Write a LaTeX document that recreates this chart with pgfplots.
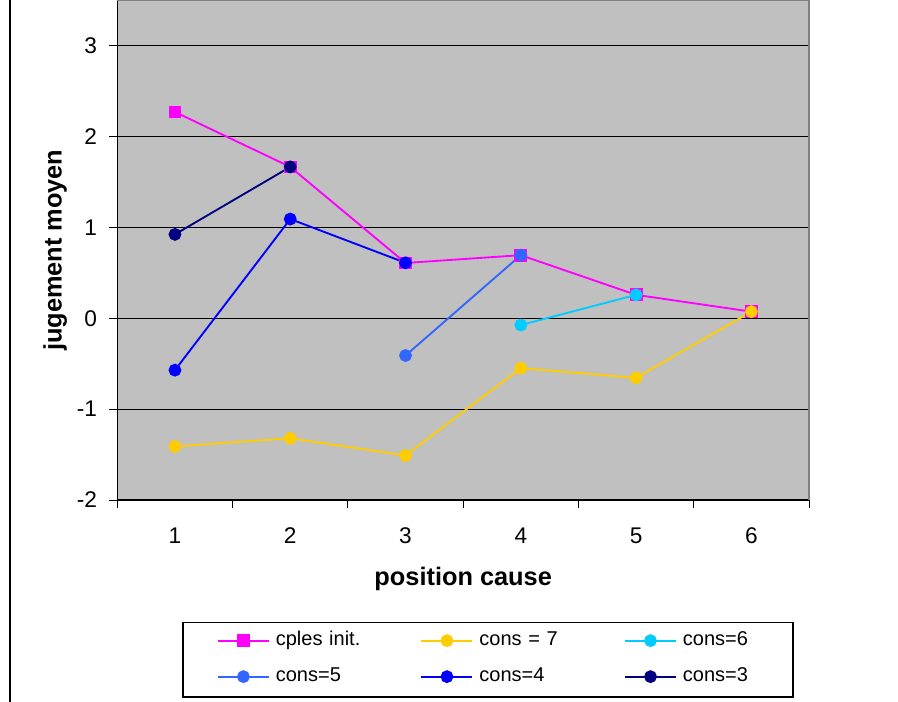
\documentclass[border=0pt]{standalone}
\usepackage{pgfplots}
\pgfplotsset{compat=1.18}
\usepackage{fontspec}
\setmainfont{Liberation Sans}
\definecolor{cmag}{HTML}{FF00FF}
\definecolor{cgold}{HTML}{FFCC00}
\definecolor{ccyan}{HTML}{00CCFF}
\definecolor{ccorn}{HTML}{3366FF}
\definecolor{cblue}{HTML}{0000FF}
\definecolor{cnavy}{HTML}{000080}
\definecolor{plotbg}{HTML}{C0C0C0}
\definecolor{framegray}{HTML}{808080}
\begin{document}
\begin{tikzpicture}
\useasboundingbox (0,0) rectangle (673.5pt,-526.5pt);
\draw[line width=1pt] (7.5pt,0pt) -- (7.5pt,-526.5pt);
\begin{axis}[
  at={(87.98pt,-375pt)}, anchor=south west,
  width=518.8pt, height=374.6pt, scale only axis,
  xmin=0.5, xmax=6.5, ymin=-2, ymax=3.5,
  axis background/.style={fill=plotbg},
  axis x line*=bottom, axis y line*=left,
  axis line style={black, line width=0.9pt},
  xtick={1,...,6}, minor xtick={0.5,1.5,...,6.5},
  ytick={-2,...,3},
  tick align=outside, major tick length=6pt, minor tick length=6pt,
  tick style={black, line width=0.75pt},
  every major x tick/.append style={draw=none},
  ymajorgrids, major grid style={black, line width=0.75pt},
  /pgf/number format/assume math mode=true,
  tick label style={font=\fontsize{17}{20}\selectfont},
  xticklabel style={anchor=base, yshift=-26.5pt},
  yticklabel style={anchor=east, inner sep=0pt, xshift=-9pt},
  xlabel={position cause}, ylabel={jugement moyen},
  xlabel style={at={(axis description cs:0.5,-0.171)}, anchor=base, font=\bfseries\fontsize{19}{22}\selectfont},
  ylabel style={at={(axis description cs:-0.0805,0.5)}, anchor=base, font=\bfseries\fontsize{19}{22}\selectfont},
  every axis plot/.append style={line width=1.4pt, mark size=4.1pt, mark options={solid}},
  legend columns=3,
  legend cell align=left,
  legend style={draw=none, fill=none, at={(axis description cs:0.14412,-0.2629)}, anchor=north west,
    inner sep=0pt, outer sep=0pt, row sep=13pt, column sep=0pt,
    font=\fontsize{15}{18}\selectfont,
    nodes={inner sep=0pt, text width=108.5pt, text height=11pt, text depth=3pt, align=left},
    /tikz/every odd column/.append style={column sep=4.5pt}},
  legend image code/.code={\draw[mark repeat=2,mark phase=2] plot coordinates {(0pt,0pt) (19.125pt,0pt) (38.25pt,0pt)};},
  after end axis/.code={\draw[framegray, line width=1pt] (rel axis cs:0,1) -- (rel axis cs:1,1) -- (rel axis cs:1,0);},
]
\addplot[color=cmag, mark=square*] coordinates {(1,2.273) (2,1.668) (3,0.61) (4,0.696) (5,0.259) (6,0.074)};
\addlegendentry{cples init.}
\addplot[color=cgold, mark=*] coordinates {(1,-1.41) (2,-1.32) (3,-1.51) (4,-0.548) (5,-0.655) (6,0.074)};
\addlegendentry{cons = 7}
\addplot[color=ccyan, mark=*] coordinates {(4,-0.073) (5,0.259)};
\addlegendentry{cons=6}
\addplot[color=ccorn, mark=*] coordinates {(3,-0.409) (4,0.696)};
\addlegendentry{cons=5}
\addplot[color=cblue, mark=*] coordinates {(1,-0.570) (2,1.094) (3,0.612)};
\addlegendentry{cons=4}
\addplot[color=cnavy, mark=*] coordinates {(1,0.925) (2,1.668)};
\addlegendentry{cons=3}
\end{axis}
\draw[line width=0.8pt] (137.25pt,-467pt) rectangle (594.75pt,-522.75pt);
\end{tikzpicture}
\end{document}
